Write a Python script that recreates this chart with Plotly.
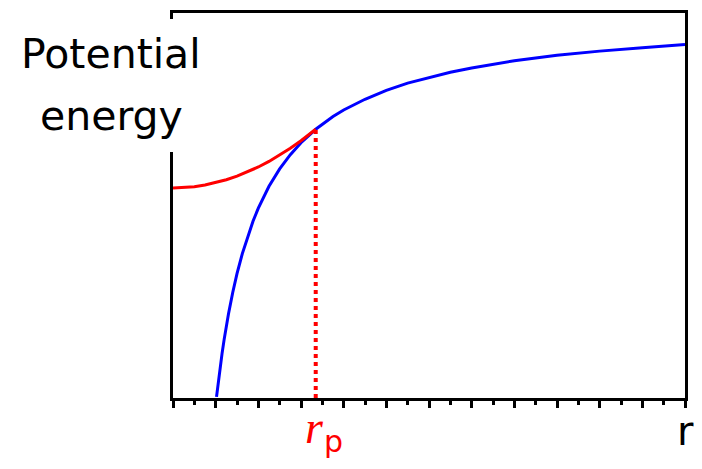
import plotly.graph_objects as go

# region Data (x in tick units 0..24, y in 0..100)
blue_r = [2.04, 2.1, 2.2, 2.3, 2.4, 2.5, 2.6, 2.8, 3.0, 3.25, 3.5, 3.75, 4.0, 4.5,
          5.0, 5.5, 6.0, 6.69, 7.5, 8, 9, 10, 11, 12, 13, 14, 15, 16, 18, 20, 22, 24]
blue_u = [0.3, 3.2, 7.6, 11.6, 15.3, 18.7, 21.8, 27.4, 32.3, 37.5, 42.0, 45.9, 49.3, 55.0,
          59.5, 63.2, 66.3, 69.8, 73.1, 74.8, 77.6, 79.9, 81.8, 83.3, 84.6, 85.7, 86.7, 87.6,
          89.0, 90.1, 91.0, 91.8]

red_r = [0, 0.5, 1, 1.5, 2, 2.5, 3, 3.5, 4, 4.5, 5, 5.5, 6, 6.69]
red_u = [54.55, 54.64, 54.89, 55.32, 55.91, 56.68, 57.62, 58.72, 60.0, 61.45, 63.07,
         64.86, 66.82, 69.8]

rp_x = [6.69, 6.69]
rp_y = [0, 69.8]
# endregion

fig = go.Figure()
fig.add_trace(go.Scatter(x=blue_r, y=blue_u, mode="lines",
                         line=dict(color="#0000ff", width=3)))
fig.add_trace(go.Scatter(x=red_r, y=red_u, mode="lines",
                         line=dict(color="#ff0000", width=3)))
fig.add_trace(go.Scatter(x=rp_x, y=rp_y, mode="lines",
                         line=dict(color="#ff0000", width=4, dash="dot")))

# white patch behind the y label that hides part of the left axis line
fig.add_shape(type="rect", xref="paper", yref="paper",
              x0=-0.02, x1=0.02, y0=0.639, y1=0.9845,
              fillcolor="white", line=dict(width=0), layer="above")

sans = "DejaVu Sans"
fig.add_annotation(text="Potential", xref="paper", yref="paper", x=-0.1202, y=0.8938,
                   xanchor="center", yanchor="middle", showarrow=False,
                   font=dict(family=sans, size=41, color="black"))
fig.add_annotation(text="energy", xref="paper", yref="paper", x=-0.1202, y=0.7314,
                   xanchor="center", yanchor="middle", showarrow=False,
                   font=dict(family=sans, size=41, color="black"))
fig.add_annotation(text="<i>r</i>", xref="paper", yref="paper", x=0.2766, y=-0.076,
                   xanchor="center", yanchor="middle", showarrow=False,
                   font=dict(family="Liberation Serif", size=46, color="#ff0000"))
fig.add_annotation(text="p", xref="paper", yref="paper", x=0.3125, y=-0.112,
                   xanchor="center", yanchor="middle", showarrow=False,
                   font=dict(family=sans, size=30, color="#ff0000"))
fig.add_annotation(text="r", xref="paper", yref="paper", x=1.0017, y=-0.085,
                   xanchor="center", yanchor="middle", showarrow=False,
                   font=dict(family=sans, size=40, color="black"))

fig.update_xaxes(range=[0, 24], showgrid=False, zeroline=False,
                 showline=True, linecolor="black", linewidth=3, mirror=True,
                 ticks="outside", tick0=0, dtick=2, ticklen=7, tickwidth=2.5,
                 tickcolor="black", showticklabels=False,
                 minor=dict(ticks="outside", dtick=1, ticklen=4, tickwidth=2.5,
                            tickcolor="black", showgrid=False))
fig.update_yaxes(range=[0, 100], showgrid=False, zeroline=False,
                 showline=True, linecolor="black", linewidth=3, mirror=True,
                 ticks="", showticklabels=False)

# the page body adds an 8px margin, so the figure is sized to fit inside it
fig.update_layout(width=694, height=461, showlegend=False,
                  margin=dict(l=165, r=17, t=2, b=71),
                  paper_bgcolor="white", plot_bgcolor="white")

fig.write_html("out.html")
